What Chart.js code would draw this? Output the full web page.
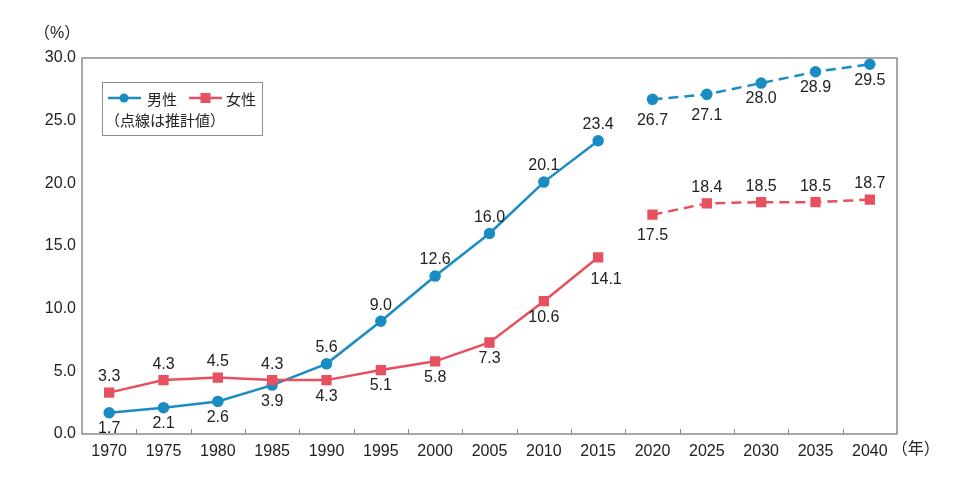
<!DOCTYPE html>
<html lang="ja">
<head>
<meta charset="utf-8">
<script src="https://cdn.jsdelivr.net/npm/chart.js@4"></script>
<style>
  html, body { margin: 0; padding: 0; background: #fff; }
  #wrap { position: relative; width: 965px; height: 483px; }
  #legend {
    position: absolute; left: 102px; top: 82px; width: 159px; height: 52px;
    border: 1px solid #8c8c8c; background: #fff;
    font: 15px "Liberation Sans", "Noto Sans CJK JP", sans-serif; color: #222;
  }
  #legend canvas { position: absolute; left: 0; top: 0; }
  #legend .t { position: absolute; white-space: nowrap; }
</style>
</head>
<body>
<div id="wrap">
  <canvas id="c" width="965" height="483"></canvas>
  <div id="legend">
    <canvas id="lg" width="159" height="52"></canvas>
    <span class="t" style="left:44px;top:5px">男性</span>
    <span class="t" style="left:123px;top:5px">女性</span>
    <span class="t" style="left:2px;top:26px">（点線は推計値）</span>
  </div>
</div>
<script>
"use strict";

// ─── Data ─────────────────────────────────────────────────────
const years = ["1970", "1975", "1980", "1985", "1990", "1995", "2000", "2005",
  "2010", "2015", "2020", "2025", "2030", "2035", "2040"];

// actual values (1970–2015), estimates (2020–2040)
const maleActual = [1.7, 2.1, 2.6, 3.9, 5.6, 9.0, 12.6, 16.0, 20.1, 23.4,
  null, null, null, null, null];
const maleEstimate = [null, null, null, null, null, null, null, null, null, null,
  26.7, 27.1, 28.0, 28.9, 29.5];
const femaleActual = [3.3, 4.3, 4.5, 4.3, 4.3, 5.1, 5.8, 7.3, 10.6, 14.1,
  null, null, null, null, null];
const femaleEstimate = [null, null, null, null, null, null, null, null, null, null,
  17.5, 18.4, 18.5, 18.5, 18.7];

// where each value label sits: a = above, b = below, B = further below, br = below-right
const maleLabelPos = ["b", "b", "b", "b", "a", "a", "a", "a", "a", "a",
  "B", "B", "b", "b", "b"];
const femaleLabelPos = ["a", "a", "a", "a", "b", "b", "b", "b", "b", "br",
  "B", "a", "a", "a", "a"];

const blue = "#1a8cc4";
const red = "#e6505f";
const frame = "#8c8c8c";
const FONT = '"Liberation Sans", "Noto Sans CJK JP", sans-serif';

// ─── Plugins ──────────────────────────────────────────────────
// Box around the plot area, inward tick marks between categories.
const framePlugin = {
  id: "frame",
  afterDraw(chart) {
    const { ctx, chartArea: a, scales } = chart;
    const x = scales.x;
    ctx.save();
    ctx.strokeStyle = frame;
    ctx.lineWidth = 1.5;
    ctx.strokeRect(a.left, a.top, a.right - a.left, a.bottom - a.top);
    ctx.lineWidth = 1;
    ctx.beginPath();
    for (let i = 1; i < years.length; i++) {
      const px = Math.round((x.getPixelForTick(i - 1) + x.getPixelForTick(i)) / 2) + 0.5;
      ctx.moveTo(px, a.bottom);
      ctx.lineTo(px, a.bottom - 5);
    }
    ctx.stroke();
    // unit labels
    ctx.fillStyle = "#222";
    ctx.font = `16px ${FONT}`;
    ctx.textBaseline = "middle";
    ctx.textAlign = "left";
    ctx.fillText("（%）", 34, 34);
    ctx.fillText("（年）", x.getPixelForTick(years.length - 1) + 22, a.bottom + 16);
    ctx.restore();
  },
};

// Value labels next to each point.
const valueLabels = {
  id: "valueLabels",
  afterDatasetsDraw(chart) {
    const { ctx } = chart;
    ctx.save();
    ctx.fillStyle = "#222";
    ctx.font = `16px ${FONT}`;
    ctx.textAlign = "center";
    ctx.textBaseline = "middle";
    chart.data.datasets.forEach((ds, di) => {
      const meta = chart.getDatasetMeta(di);
      const posList = ds.labelPos;
      meta.data.forEach((pt, i) => {
        const v = ds.data[i];
        if (v == null) return;
        const p = posList[i];
        let dx = 0, dy = p === "a" ? -16 : 16;
        if (p === "B") dy = 21;
        if (p === "br") { dx = 8; dy = 22; }
        ctx.fillText(v.toFixed(1), pt.x + dx, pt.y + dy);
      });
    });
    ctx.restore();
  },
};

// ─── Chart ────────────────────────────────────────────────────
function series(data, color, style, dashed, labelPos) {
  return {
    data,
    labelPos,
    borderColor: color,
    backgroundColor: color,
    pointBackgroundColor: color,
    pointBorderColor: color,
    pointStyle: style,
    pointRadius: style === "rect" ? 5.5 : 4.5,
    borderWidth: 2.5,
    borderDash: dashed ? [10, 6] : [],
    tension: 0,
    spanGaps: false,
  };
}

new Chart(document.getElementById("c"), {
  type: "line",
  data: {
    labels: years,
    datasets: [
      series(femaleActual, red, "rect", false, femaleLabelPos),
      series(femaleEstimate, red, "rect", true, femaleLabelPos),
      series(maleActual, blue, "circle", false, maleLabelPos),
      series(maleEstimate, blue, "circle", true, maleLabelPos),
    ],
  },
  options: {
    responsive: false,
    animation: false,
    layout: { padding: { top: 58, right: 68, left: 0, bottom: 0 } },
    plugins: { legend: { display: false }, tooltip: { enabled: false } },
    scales: {
      x: {
        offset: true,
        grid: { display: false, drawTicks: false },
        border: { display: false },
        ticks: { color: "#222", font: { family: FONT, size: 16 }, padding: 8, maxRotation: 0 },
        afterFit: (s) => { s.height = 49; },
      },
      y: {
        min: 0,
        max: 30,
        grid: { display: false, drawTicks: false },
        border: { display: false },
        ticks: {
          stepSize: 5,
          color: "#222",
          font: { family: FONT, size: 16 },
          padding: 6,
          callback: (v) => v.toFixed(1),
        },
        afterFit: (s) => { s.width = 82; },
      },
    },
  },
  plugins: [framePlugin, valueLabels],
});

// ─── Legend symbols ───────────────────────────────────────────
(function drawLegend() {
  const ctx = document.getElementById("lg").getContext("2d");
  ctx.lineWidth = 2.5;
  ctx.strokeStyle = blue; ctx.fillStyle = blue;
  ctx.beginPath(); ctx.moveTo(5, 15); ctx.lineTo(38, 15); ctx.stroke();
  ctx.beginPath(); ctx.arc(21, 15, 4.5, 0, Math.PI * 2); ctx.fill();
  ctx.strokeStyle = red; ctx.fillStyle = red;
  ctx.beginPath(); ctx.moveTo(86, 15); ctx.lineTo(119, 15); ctx.stroke();
  ctx.fillRect(97.5, 10, 10, 10);
})();
</script>
</body>
</html>
